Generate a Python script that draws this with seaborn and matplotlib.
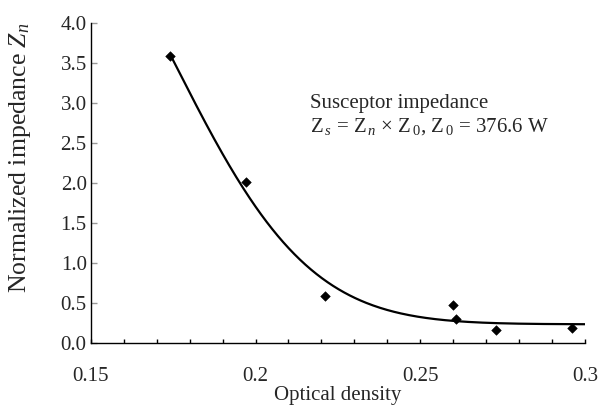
import numpy as np
import pandas as pd
import matplotlib
matplotlib.use('Agg')
import matplotlib.pyplot as plt
import seaborn as sns

# measured points
optical_density = [0.174, 0.197, 0.221, 0.260, 0.261, 0.273, 0.296]
impedance = [3.59, 2.01, 0.59, 0.475, 0.30, 0.165, 0.19]

# model curve at a few positions
curve_od = [0.1744, 0.1952, 0.2073, 0.2103, 0.2204, 0.2376, 0.2558, 0.2608, 0.278, 0.300]
curve_zn = [3.58, 2.02, 1.29, 1.20, 0.77, 0.45, 0.30, 0.30, 0.25, 0.24]
curve_floor = 0.235

x_ticks = [0.15, 0.2, 0.25, 0.3]
x_tick_labels = ['0.15', '0.2', '0.25', '0.3']
y_ticks = [0.0, 0.5, 1.0, 1.5, 2.0, 2.5, 3.0, 3.5, 4.0]

sns.set_style('white')
plt.rcParams['font.family'] = ['Liberation Serif', 'DejaVu Serif']
plt.rcParams['mathtext.fontset'] = 'custom'
plt.rcParams['mathtext.rm'] = 'Liberation Serif'
plt.rcParams['mathtext.it'] = 'Liberation Serif:italic'

df = pd.DataFrame({'od': optical_density, 'zn': impedance})

# smooth the model curve: floor + exp(quadratic), fitted to the readings
cx = np.array(curve_od)
cy = np.array(curve_zn) - curve_floor
p = np.polyfit(cx, np.log(cy), 2, w=cy)
xs = np.linspace(cx[0], cx[-1], 300)
trend = pd.DataFrame({'od': xs, 'zn': curve_floor + np.exp(np.polyval(p, xs))})

fig = plt.figure(figsize=(5.98, 4.07), dpi=100)
ax = fig.add_axes([0.152, 0.157, 0.826, 0.786])

sns.lineplot(data=trend, x='od', y='zn', color='black', lw=1.6, ax=ax)
sns.scatterplot(data=df, x='od', y='zn', marker='D', s=24, color='black',
                edgecolor='black', ax=ax, zorder=3)

ax.set_xlim(0.15, 0.3)
ax.set_ylim(0.0, 4.0)
ax.set_xticks(x_ticks)
ax.set_xticklabels(x_tick_labels)
ax.set_xticks(np.arange(0.16, 0.30, 0.01), minor=True)
ax.set_yticks(y_ticks)
ax.set_yticklabels([f'{v:.1f}' for v in y_ticks])

ax.tick_params(axis='x', which='both', bottom=True, direction='in', length=3,
               width=1, color='black', labelsize=15, pad=17)
ax.tick_params(axis='y', left=True, direction='in', length=4, width=1,
               color='#999999', labelsize=15, pad=3)
for s in ['top', 'right']:
    ax.spines[s].set_visible(False)
for s in ['left', 'bottom']:
    ax.spines[s].set_color('black')
    ax.spines[s].set_linewidth(1.0)

ax.set_xlabel('Optical density', fontsize=15, labelpad=0)
ax.set_ylabel(r'Normalized impedance $\mathit{Z_n}$', fontsize=18.5)
ax.yaxis.set_label_coords(-0.117, 0.58)

ax.text(0.2164, 2.94, 'Susceptor impedance', fontsize=15, va='baseline')
ax.text(0.2164, 2.65,
        r'Z$_{\,\mathit{s}}$ = Z$_{\,\mathit{n}}$ $\times$ Z$_{\,0}$, Z$_{\,0}$ = 376.6 W',
        fontsize=15, va='baseline')

fig.savefig('out.png', dpi=100)
